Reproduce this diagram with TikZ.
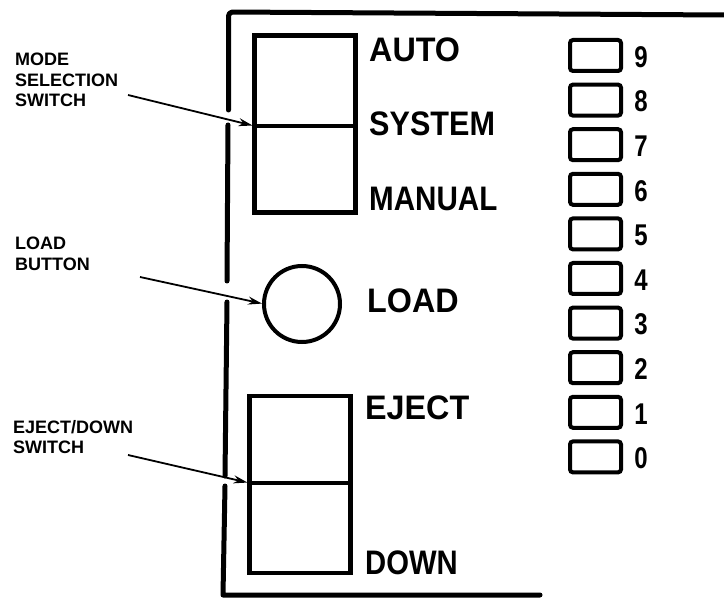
\documentclass[tikz,border=0pt]{standalone}
\usepackage{fontspec}
\usepackage{graphicx}
\setmainfont{Liberation Sans}
\usetikzlibrary{arrows.meta}
\newcommand\narrowtxt[2]{\scalebox{#1}[1]{#2}}
\begin{document}
\begin{tikzpicture}[x=1pt,y=-1pt,
  panel/.style={line width=5pt, line cap=round, line join=round},
  swbox/.style={draw, line width=4.5pt, inner sep=0pt, outer sep=0pt, minimum width=101pt, minimum height=177pt},
  swline/.style={line width=4.5pt},
  btn/.style={draw, circle, line width=4pt, inner sep=0pt, outer sep=0pt, minimum size=76pt},
  digbox/.style={draw, line width=4pt, rounded corners=3pt, inner sep=0pt, outer sep=0pt, minimum width=51pt, minimum height=31pt},
  digit/.style={font=\fontsize{30}{32}\selectfont\bfseries, inner sep=0pt},
  plbl/.style={font=\fontsize{34}{36}\selectfont\bfseries, inner sep=0pt, anchor=west},
  callout/.style={font=\fontsize{18}{20.5}\selectfont\bfseries, inner sep=0pt, anchor=north west, align=left},
  pointer/.style={line width=1.8pt, -{Stealth[length=14pt,width=8pt]}, shorten >=2pt}
]
\useasboundingbox (0,0) rectangle (724,599);

% panel outline (broken where the pointers cross)
\draw[panel, rounded corners=4pt] (228.5,110) -- (228.5,12) -- (724,15);
\draw[panel] (228,125) -- (227,281);
\draw[panel] (227,302) -- (225,476);
\draw[panel] (225,486) -- (223,595) -- (540,595);

% mode selection switch
\node[swbox] (modesw) at (305,124) {};
\draw[swline] (modesw.west |- 0,126) -- (modesw.east |- 0,126);
\coordinate (modetip) at (modesw.west |- 0,126);

% load button
\node[btn] (loadbtn) at (302,304) {};

% eject/down switch
\node[swbox] (ejectsw) at (300,484.5) {};
\draw[swline] (ejectsw.west |- 0,483) -- (ejectsw.east |- 0,483);
\coordinate (ejecttip) at (ejectsw.west |- 0,483);

% panel labels
\node[plbl] (auto)   at (369,50)  {\narrowtxt{0.95}{AUTO}};
\node[plbl] (system) at (369,124) {\narrowtxt{0.9}{SYSTEM}};
\node[plbl] (manual) at (369,199) {\narrowtxt{0.87}{MANUAL}};
\node[plbl] (loadl)  at (367,301) {\narrowtxt{0.95}{LOAD}};
\node[plbl] (eject)  at (365,408) {\narrowtxt{0.95}{EJECT}};
\node[plbl] (down)   at (365,563) {\narrowtxt{0.86}{DOWN}};

% indicator boxes and digits
\foreach \d [count=\k from 0] in {9,8,7,6,5,4,3,2,1,0} {
  \node[digbox] (b\d) at (595.5,{55.5+44.6*\k}) {};
  \node[digit] (d\d) at (641,{57+44.6*\k}) {\narrowtxt{0.8}{\d}};
}

% callouts
\node[callout] (modelbl) at (15,53) {MODE\\SELECTION\\SWITCH};
\node[callout] (loadlbl) at (15,237) {LOAD\\BUTTON};
\node[callout] (ejectlbl) at (13,420) {EJECT/DOWN\\SWITCH};

\coordinate (modesrc) at (128,95);
\coordinate (loadsrc) at (140,277);
\coordinate (ejectsrc) at (128,455);

\draw[pointer] (modesrc) -- (modetip);
\draw[pointer] (loadsrc) -- (loadbtn.west);
\draw[pointer] (ejectsrc) -- (ejecttip);
\end{tikzpicture}
\end{document}
